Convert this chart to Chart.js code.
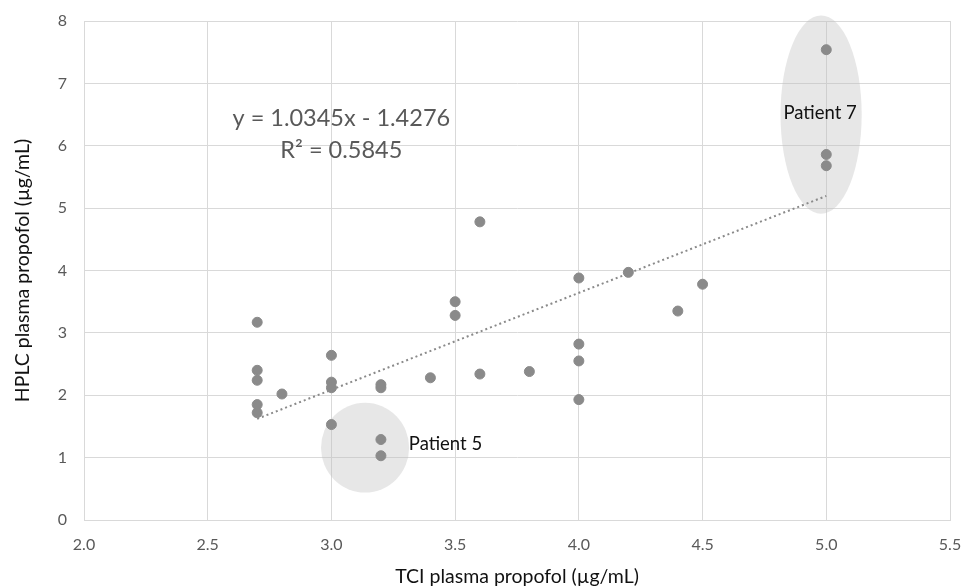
<!DOCTYPE html>
<html>
<head>
<meta charset="utf-8">
<script src="https://cdn.jsdelivr.net/npm/chart.js@4.4.1/dist/chart.umd.min.js"></script>
<style>
  html, body { margin: 0; padding: 0; background: #fff; }
  #wrap { width: 961px; height: 588px; }
</style>
</head>
<body>
<div id="wrap"><canvas id="chart" width="961" height="588"></canvas></div>
<script>
// TCI plasma propofol (x) vs HPLC plasma propofol (y)
var tciValues = [2.7, 2.7, 2.7, 2.7, 2.7, 2.8, 3.0, 3.0, 3.0, 3.0,
                 3.2, 3.2, 3.2, 3.2, 3.4, 3.5, 3.5, 3.6, 3.6, 3.8,
                 4.0, 4.0, 4.0, 4.0, 4.2, 4.4, 4.5, 5.0, 5.0, 5.0];
var hplcValues = [3.17, 2.40, 2.24, 1.85, 1.72, 2.02, 2.64, 2.21, 2.12, 1.53,
                  2.17, 2.12, 1.29, 1.03, 2.28, 3.50, 3.28, 4.78, 2.34, 2.38,
                  3.88, 2.82, 2.55, 1.93, 3.97, 3.35, 3.78, 7.54, 5.86, 5.68];

var xTicks = [2.0, 2.5, 3.0, 3.5, 4.0, 4.5, 5.0, 5.5];
var yTicks = [0, 1, 2, 3, 4, 5, 6, 7, 8];

var equationText = 'y = 1.0345x - 1.4276';
var r2Text = 'R\u00B2 = 0.5845';

// highlighted groups: centre and half-sizes in data units
var groupLabels = ['Patient 5', 'Patient 7'];
var groupCentreX = [3.136, 4.979];
var groupCentreY = [1.16, 6.50];
var groupHalfX = [0.178, 0.164];
var groupHalfY = [0.72, 1.59];

var points = [];
for (var i = 0; i < tciValues.length; i++) {
    points.push({ x: tciValues[i], y: hplcValues[i] });
}

// linear least-squares trendline over the data
function trendline() {
    var n = tciValues.length, sx = 0, sy = 0, sxx = 0, sxy = 0;
    for (var i = 0; i < n; i++) {
        sx += tciValues[i]; sy += hplcValues[i];
        sxx += tciValues[i] * tciValues[i]; sxy += tciValues[i] * hplcValues[i];
    }
    var slope = (n * sxy - sx * sy) / (n * sxx - sx * sx);
    var icpt = (sy - slope * sx) / n;
    var x0 = Math.min.apply(null, tciValues), x1 = Math.max.apply(null, tciValues);
    return [{ x: x0, y: slope * x0 + icpt }, { x: x1, y: slope * x1 + icpt }];
}

var FONT = 'Lato, "Open Sans", sans-serif';

var overlayPlugin = {
    id: 'overlay',
    beforeDatasetsDraw: function (chart) {
        var ctx = chart.ctx, xs = chart.scales.x, ys = chart.scales.y;
        ctx.save();
        ctx.fillStyle = 'rgba(191,191,191,0.38)';
        for (var i = 0; i < groupLabels.length; i++) {
            var cx = xs.getPixelForValue(groupCentreX[i]);
            var cy = ys.getPixelForValue(groupCentreY[i]);
            var rx = Math.abs(xs.getPixelForValue(groupCentreX[i] + groupHalfX[i]) - cx);
            var ry = Math.abs(ys.getPixelForValue(groupCentreY[i] + groupHalfY[i]) - cy);
            ctx.beginPath();
            ctx.ellipse(cx, cy, rx, ry, 0, 0, Math.PI * 2);
            ctx.fill();
        }
        ctx.restore();
    },
    afterDatasetsDraw: function (chart) {
        var ctx = chart.ctx, xs = chart.scales.x, ys = chart.scales.y;
        ctx.save();
        ctx.textAlign = 'center';
        ctx.textBaseline = 'middle';
        ctx.fillStyle = '#595959';
        ctx.font = '23.5px ' + FONT;
        ctx.fillText(equationText, xs.getPixelForValue(3.04), ys.getPixelForValue(6.44));
        ctx.fillText(r2Text, xs.getPixelForValue(3.04), ys.getPixelForValue(5.93));
        ctx.fillStyle = '#111111';
        ctx.font = '18.5px ' + FONT;
        ctx.fillText(groupLabels[0], xs.getPixelForValue(3.461), ys.getPixelForValue(1.21));
        ctx.fillText(groupLabels[1], xs.getPixelForValue(4.975), ys.getPixelForValue(6.52));
        ctx.restore();
    }
};

new Chart(document.getElementById('chart'), {
    type: 'scatter',
    data: {
        datasets: [{
            label: 'HPLC',
            data: points,
            backgroundColor: '#8a8a8a',
            borderColor: '#8a8a8a',
            pointRadius: 5,
            pointHoverRadius: 5,
            order: 1
        }, {
            label: 'Trend',
            data: trendline(),
            showLine: true,
            borderColor: '#8a8a8a',
            borderWidth: 2,
            borderDash: [2, 3],
            pointRadius: 0,
            fill: false,
            order: 2
        }]
    },
    options: {
        responsive: false,
        animation: false,
        layout: { padding: { top: 21, right: 11, left: 0, bottom: 0 } },
        plugins: {
            legend: { display: false },
            tooltip: { enabled: false }
        },
        scales: {
            x: {
                type: 'linear',
                min: 2.0,
                max: 5.5,
                afterBuildTicks: function (scale) {
                    scale.ticks = xTicks.map(function (v) { return { value: v }; });
                },
                afterFit: function (scale) {
                    scale.height = 68;
                    scale.paddingLeft = 0;
                    scale.paddingRight = 0;
                },
                ticks: {
                    padding: 15,
                    color: '#595959',
                    font: { family: FONT, size: 16 },
                    callback: function (v) { return v.toFixed(1); }
                },
                grid: { color: '#d9d9d9', lineWidth: 1, drawTicks: false },
                border: { color: '#d9d9d9' },
                title: {
                    display: true,
                    text: 'TCI plasma propofol (\u00B5g/mL)',
                    color: '#111111',
                    font: { family: FONT, size: 19.5 },
                    padding: { top: 0, bottom: 0 }
                }
            },
            y: {
                type: 'linear',
                min: 0,
                max: 8,
                afterBuildTicks: function (scale) {
                    scale.ticks = yTicks.map(function (v) { return { value: v }; });
                },
                afterFit: function (scale) {
                    scale.width = 84;
                    scale.paddingTop = 0;
                    scale.paddingBottom = 0;
                },
                ticks: {
                    padding: 17,
                    color: '#595959',
                    font: { family: FONT, size: 16 },
                    callback: function (v) { return String(v); }
                },
                grid: { color: '#d9d9d9', lineWidth: 1, drawTicks: false },
                border: { color: '#d9d9d9' },
                title: {
                    display: true,
                    text: 'HPLC plasma propofol (\u00B5g/mL)',
                    color: '#111111',
                    font: { family: FONT, size: 19.5 },
                    padding: { top: 11, bottom: 0 }
                }
            }
        }
    },
    plugins: [overlayPlugin]
});
</script>
</body>
</html>
